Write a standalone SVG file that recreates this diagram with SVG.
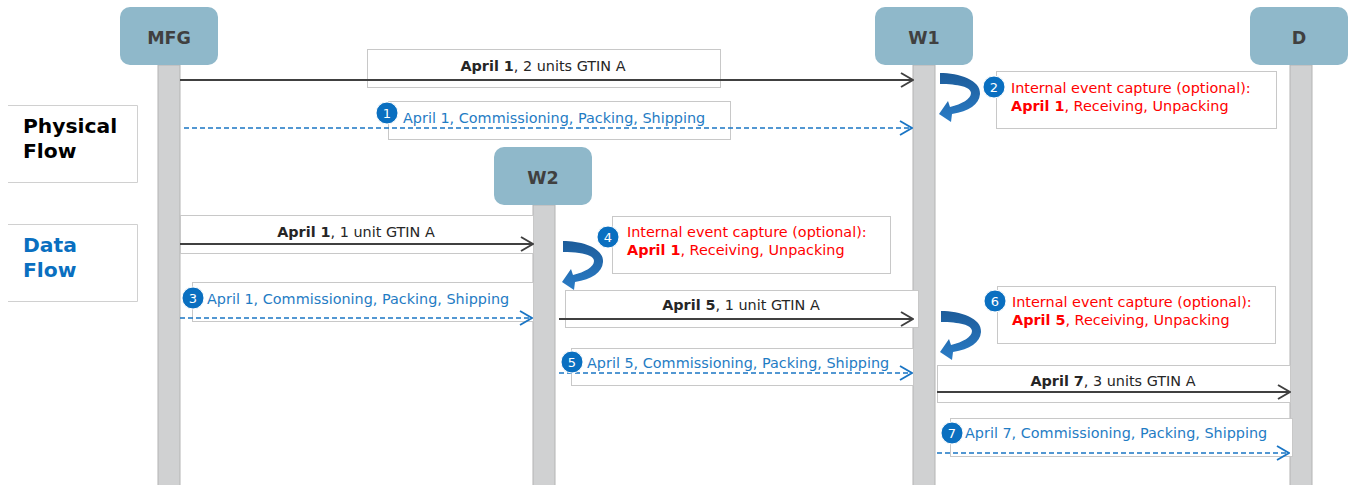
<svg xmlns="http://www.w3.org/2000/svg" width="1351" height="485" viewBox="0 0 1351 485">
<style>
.hdr rect{fill:#8fb8ca;}
.hdr text{font-family:"DejaVu Sans",sans-serif;font-weight:bold;font-size:17.5px;fill:#404040;text-anchor:middle;}
.life{fill:#d0d1d2;stroke:#b4b4b4;stroke-width:1;}
.lbl{fill:#fff;stroke:#c8c8c8;stroke-width:1;}
.side{fill:#fff;stroke:#d0d0d0;stroke-width:1;}
.t{font-family:"DejaVu Sans",sans-serif;font-size:14.4px;}
.dk{fill:#262626;}
.bl{fill:#1f7cc4;}
.rd{fill:#ff0000;}
.ttl{font-family:"DejaVu Sans",sans-serif;font-size:20.3px;font-weight:bold;}
.solid{stroke:#404040;stroke-width:2;fill:none;marker-end:url(#ah);}
.dash{stroke:#1a75c4;stroke-width:1.6;fill:none;stroke-dasharray:5,3;marker-end:url(#ahb);}
.num circle{fill:#0a6fc0;stroke:#fff;stroke-width:1;}
.num text{font-family:"DejaVu Sans",sans-serif;font-size:13px;fill:#fff;text-anchor:middle;}
.curl{fill:url(#cg);}
</style>
<defs>
<marker id="ah" markerUnits="userSpaceOnUse" viewBox="0 0 14 16" markerWidth="14" markerHeight="16" refX="13" refY="8" orient="auto">
<path d="M1,1 L13,8 L1,15" fill="none" stroke="#404040" stroke-width="2"/>
</marker>
<marker id="ahb" markerUnits="userSpaceOnUse" viewBox="0 0 14 16" markerWidth="14" markerHeight="16" refX="13" refY="8" orient="auto">
<path d="M1,1 L13,8 L1,15" fill="none" stroke="#1a75c4" stroke-width="1.8"/>
</marker>
<linearGradient id="cg" x1="0" y1="0" x2="0" y2="1">
<stop offset="0" stop-color="#1d5c9a"/>
<stop offset="1" stop-color="#2a7cc6"/>
</linearGradient>
<path id="curlshape" d="M4,1 C23,1 45,8 44,22 C43,33 33,39 16,42 L15,50 L3,42 L12,29 L14,35 C26,32 35,27 35,21 C35,15 22,12 4,12 Z"/>
</defs>

<g id="lifelines">
<rect class="life" x="158" y="65" width="22" height="425"/>
<rect class="life" x="913" y="65" width="22" height="425"/>
<rect class="life" x="1290" y="65" width="22" height="425"/>
<rect class="life" x="533" y="205" width="22" height="285"/>
</g>

<g id="node-MFG" class="hdr"><rect x="120" y="7" width="98" height="58" rx="10"/><text x="169" y="44">MFG</text></g>
<g id="node-W1" class="hdr"><rect x="875" y="7" width="98" height="58" rx="10"/><text x="924" y="44">W1</text></g>
<g id="node-D" class="hdr"><rect x="1250" y="7" width="98" height="58" rx="10"/><text x="1299" y="44">D</text></g>
<g id="node-W2" class="hdr"><rect x="494" y="147" width="98" height="58" rx="10"/><text x="543" y="184">W2</text></g>

<g id="legend-physical">
<path class="side" d="M8,105.5 H137.5 V182.5 H8"/>
<text class="ttl" fill="#000" x="23" y="133">Physical</text>
<text class="ttl" fill="#000" x="23" y="158">Flow</text>
</g>
<g id="legend-data">
<path class="side" d="M8,224.5 H137.5 V301.5 H8"/>
<text class="ttl" fill="#0a6fc0" x="23" y="252">Data</text>
<text class="ttl" fill="#0a6fc0" x="23" y="277">Flow</text>
</g>

<g id="label-boxes">
<rect class="lbl" x="367.5" y="49.5" width="353" height="38"/>
<rect class="lbl" x="388.5" y="101.5" width="342" height="38"/>
<rect class="lbl" x="996.5" y="71.5" width="280" height="57"/>
<rect class="lbl" x="180.5" y="215.5" width="353" height="38"/>
<rect class="lbl" x="192.5" y="282.5" width="341" height="39"/>
<rect class="lbl" x="612.5" y="216.5" width="278" height="57"/>
<rect class="lbl" x="565.5" y="290.5" width="353" height="37"/>
<rect class="lbl" x="571.5" y="348.5" width="342" height="37"/>
<rect class="lbl" x="997.5" y="286.5" width="278" height="57"/>
<rect class="lbl" x="937.5" y="365.5" width="353" height="37"/>
<rect class="lbl" x="950.5" y="418.5" width="342" height="38"/>
</g>

<g id="connectors">
<line class="solid" x1="180" y1="80" x2="913" y2="80"/>
<line class="dash" x1="184" y1="128" x2="912" y2="128"/>
<line class="solid" x1="180" y1="244" x2="533" y2="244"/>
<line class="dash" x1="180" y1="318" x2="532" y2="318"/>
<line class="solid" x1="559" y1="319" x2="913" y2="319"/>
<line class="dash" x1="559" y1="373" x2="912" y2="373"/>
<line class="solid" x1="937" y1="392" x2="1290" y2="392"/>
<line class="dash" x1="937" y1="453" x2="1289" y2="453"/>
<use class="curl" href="#curlshape" x="936" y="72"/>
<use class="curl" href="#curlshape" x="559" y="240"/>
<use class="curl" href="#curlshape" x="937" y="310"/>
</g>

<g id="msg1">
<text class="t dk" x="543" y="71" text-anchor="middle"><tspan font-weight="bold">April 1</tspan>, 2 units GTIN A</text>
</g>
<g id="msg1-data">
<g class="num"><circle cx="387" cy="113" r="11"/><text x="387" y="118">1</text></g>
<text class="t bl" x="403" y="123">April 1, Commissioning, Packing, Shipping</text>
</g>
<g id="msg2">
<g class="num"><circle cx="994" cy="87" r="11"/><text x="994" y="92">2</text></g>
<text class="t rd" x="1011" y="93">Internal event capture (optional):</text>
<text class="t rd" x="1011" y="111"><tspan font-weight="bold">April 1</tspan>, Receiving, Unpacking</text>
</g>
<g id="msg-w2-phys">
<text class="t dk" x="356" y="237" text-anchor="middle"><tspan font-weight="bold">April 1</tspan>, 1 unit GTIN A</text>
</g>
<g id="msg3">
<g class="num"><circle cx="193" cy="298" r="11"/><text x="193" y="303">3</text></g>
<text class="t bl" x="207" y="304">April 1, Commissioning, Packing, Shipping</text>
</g>
<g id="msg4">
<g class="num"><circle cx="608" cy="237" r="11"/><text x="608" y="242">4</text></g>
<text class="t rd" x="627" y="237">Internal event capture (optional):</text>
<text class="t rd" x="627" y="255"><tspan font-weight="bold">April 1</tspan>, Receiving, Unpacking</text>
</g>
<g id="msg5-phys">
<text class="t dk" x="741" y="310" text-anchor="middle"><tspan font-weight="bold">April 5</tspan>, 1 unit GTIN A</text>
</g>
<g id="msg5">
<g class="num"><circle cx="572" cy="362" r="11"/><text x="572" y="367">5</text></g>
<text class="t bl" x="587" y="368">April 5, Commissioning, Packing, Shipping</text>
</g>
<g id="msg6">
<g class="num"><circle cx="995" cy="301" r="11"/><text x="995" y="306">6</text></g>
<text class="t rd" x="1012" y="307">Internal event capture (optional):</text>
<text class="t rd" x="1012" y="325"><tspan font-weight="bold">April 5</tspan>, Receiving, Unpacking</text>
</g>
<g id="msg7-phys">
<text class="t dk" x="1113" y="386" text-anchor="middle"><tspan font-weight="bold">April 7</tspan>, 3 units GTIN A</text>
</g>
<g id="msg7">
<g class="num"><circle cx="952" cy="433" r="11"/><text x="952" y="438">7</text></g>
<text class="t bl" x="965" y="438">April 7, Commissioning, Packing, Shipping</text>
</g>
</svg>
